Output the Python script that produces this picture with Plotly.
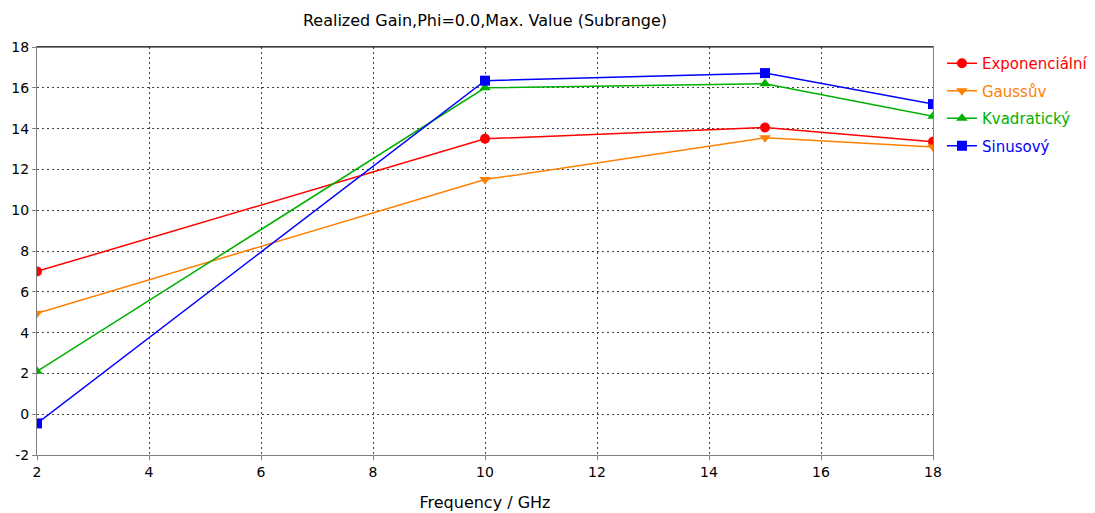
import plotly.graph_objects as go

freq = [2, 10, 15, 18]
exponencialni = [7.0, 13.5, 14.05, 13.35]
gaussuv = [4.95, 11.5, 13.55, 13.1]
kvadraticky = [2.1, 16.0, 16.2, 14.6]
sinusovy = [-0.45, 16.35, 16.72, 15.2]

y_tickvals = [-2, 0, 2, 4, 6, 8, 10, 12, 14, 16, 18]
y_ticktext = ["-2", "0", "2", "4", "6", "8", "10", "12", "14", "16", "18"]

series = [
    ("Exponenciální", exponencialni, "#ff0000", "circle"),
    ("Gaussův", gaussuv, "#ff8000", "triangle-down"),
    ("Kvadratický", kvadraticky, "#00b000", "triangle-up"),
    ("Sinusový", sinusovy, "#0000ff", "square"),
]

font = "DejaVu Sans"
fig = go.Figure()
for i, (name, vals, col, sym) in enumerate(series):
    fig.add_trace(go.Scatter(
        x=freq, y=vals, mode="lines+markers",
        name=f"<span style='color:{col}'>{name}</span>",
        legendgroup=f"g{i}",
        line=dict(color=col, width=1.5),
        marker=dict(color=col, symbol=sym, size=10),
    ))

grid = dict(showgrid=True, gridcolor="#444444", griddash="2px,3px", gridwidth=1,
            showline=True, linecolor="#808080", linewidth=1, mirror=True,
            ticks="outside", ticklen=4, tickcolor="#808080",
            tickfont=dict(family=font, size=14, color="black"), zeroline=False)

fig.update_layout(
    width=1095, height=513,
    margin=dict(l=37, r=162, t=47, b=58, autoexpand=False),
    paper_bgcolor="white", plot_bgcolor="white",
    title=dict(text="Realized Gain,Phi=0.0,Max. Value (Subrange)", x=0.5, xref="paper",
               y=1 - 20 / 513, yanchor="middle",
               font=dict(family=font, size=16, color="black")),
    xaxis=dict(range=[2, 18], dtick=2, title=dict(text="Frequency / GHz", standoff=18,
               font=dict(family=font, size=16, color="black")), **grid),
    yaxis=dict(range=[-2, 18], tickvals=y_tickvals, ticktext=y_ticktext, **grid),
    legend=dict(x=1.01, xanchor="left", y=1.0, yanchor="top",
                font=dict(family=font, size=15), tracegroupgap=5,
                itemwidth=30, bgcolor="rgba(0,0,0,0)"),
    showlegend=True,
)
fig.add_shape(type="line", xref="paper", yref="paper", x0=0, x1=1, y0=1, y1=1,
              line=dict(color="black", width=1))
fig.write_html("out.html")
